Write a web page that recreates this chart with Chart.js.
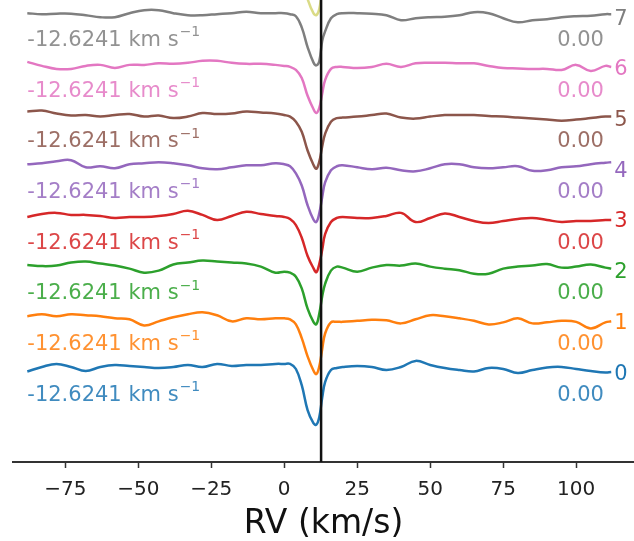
<!DOCTYPE html>
<html>
<head>
<meta charset="utf-8">
<script src="https://cdn.jsdelivr.net/npm/chart.js@4.4.1/dist/chart.umd.min.js"></script>
<style>
  html, body { margin: 0; padding: 0; background: #fff; }
</style>
</head>
<body>
<canvas id="myChart" width="634" height="541"></canvas>
<script>
// radial velocity grid (km/s)
const velocities = [-88, -83, -78, -73, -68, -63, -58, -53, -48, -43, -38, -33, -28, -23, -18, -13, -8, -3,
  0, 2, 4, 6, 8, 10, 11, 12, 13, 14, 16, 18, 20,
  25, 30, 35, 40, 45, 50, 55, 60, 65, 70, 75, 80, 85, 90, 95, 100, 105, 110, 112];

// normalised flux of each spectrum, bottom (0) to top (8, mostly cut off)
const flux0 = [0.97, 1.06, 1.12, 1.06, 0.98, 1.06, 1.10, 1.08, 1.06, 1.04, 1.06, 1.10, 1.06, 1.12, 1.08, 1.10, 1.10, 1.12, 1.12,
  1.12, 1.02, 0.70, 0.21, -0.05, -0.08, 0.07, 0.45, 0.76, 1.00, 1.04, 1.06,
  1.08, 1.06, 1.00, 1.06, 1.18, 1.10, 1.04, 1.00, 0.97, 1.04, 1.02, 0.94, 1.00, 1.05, 1.06, 1.02, 0.98, 0.95, 0.96];
const flux1 = [1.06, 1.10, 1.06, 1.10, 1.08, 1.06, 1.02, 1.00, 0.88, 0.96, 1.04, 1.10, 1.14, 1.08, 0.96, 1.02, 1.00, 1.02, 1.02,
  1.00, 0.90, 0.63, 0.27, -0.01, -0.08, 0.07, 0.41, 0.72, 0.94, 0.95, 0.95,
  0.97, 0.99, 0.98, 0.92, 1.00, 1.08, 1.06, 1.02, 0.97, 0.90, 0.94, 1.02, 0.92, 0.94, 0.97, 0.95, 0.82, 0.94, 0.96];
const flux2 = [1.07, 1.05, 1.06, 1.12, 1.14, 1.10, 1.06, 1.00, 0.92, 0.96, 1.08, 1.12, 1.16, 1.14, 1.12, 1.10, 1.04, 0.92, 0.94,
  0.92, 0.84, 0.61, 0.21, -0.05, -0.10, 0.11, 0.45, 0.70, 0.96, 1.04, 1.02,
  0.94, 1.02, 1.07, 1.06, 1.10, 1.04, 1.00, 0.97, 0.90, 0.90, 1.00, 1.04, 1.06, 1.09, 1.02, 1.04, 1.08, 1.02, 1.00];
const flux3 = [1.02, 1.08, 1.10, 1.06, 1.06, 1.04, 1.00, 1.02, 1.02, 1.04, 1.08, 1.14, 1.06, 0.96, 1.04, 1.12, 1.08, 1.04, 1.02,
  0.98, 0.86, 0.61, 0.25, 0.01, -0.07, 0.09, 0.37, 0.68, 0.92, 1.00, 1.02,
  1.00, 1.00, 1.04, 1.10, 0.92, 1.00, 1.09, 1.02, 0.94, 0.90, 0.94, 0.98, 1.00, 0.96, 0.92, 0.94, 0.94, 0.96, 0.96];
const flux4 = [1.06, 1.08, 1.12, 1.14, 1.00, 1.02, 0.98, 1.06, 1.08, 1.10, 1.08, 1.04, 0.98, 0.96, 1.00, 1.04, 1.04, 1.08, 1.06,
  1.02, 0.88, 0.64, 0.25, -0.03, -0.08, 0.09, 0.41, 0.70, 0.94, 1.02, 1.04,
  1.00, 0.96, 0.99, 0.94, 0.92, 0.98, 1.06, 1.06, 1.00, 0.98, 1.00, 1.02, 0.93, 0.94, 1.00, 1.02, 1.06, 1.09, 1.10];
const flux5 = [1.10, 1.12, 1.06, 1.02, 1.03, 1.00, 1.03, 1.05, 1.00, 1.02, 0.97, 1.00, 1.07, 1.05, 1.06, 1.10, 1.08, 1.06, 1.03,
  1.00, 0.90, 0.70, 0.33, 0.05, -0.03, 0.11, 0.41, 0.66, 0.90, 0.97, 0.98,
  1.00, 1.03, 1.06, 0.98, 0.96, 1.00, 1.03, 1.03, 1.03, 1.01, 1.00, 0.98, 0.96, 0.94, 0.92, 0.94, 0.97, 1.00, 1.00];
const flux6 = [1.08, 1.00, 0.94, 0.94, 1.00, 1.02, 0.96, 1.02, 1.02, 1.05, 1.04, 1.06, 1.10, 1.10, 1.06, 1.04, 1.04, 1.02, 1.00,
  0.98, 0.92, 0.76, 0.41, 0.15, 0.07, 0.17, 0.45, 0.72, 0.94, 0.98, 0.98,
  0.96, 0.98, 1.04, 0.98, 1.05, 1.06, 1.06, 1.05, 1.05, 1.00, 0.96, 0.95, 0.94, 0.94, 0.92, 1.02, 0.90, 1.00, 0.98];
const flux7 = [1.04, 1.02, 1.03, 1.03, 1.00, 0.96, 0.96, 1.04, 1.10, 1.10, 1.04, 1.00, 1.00, 1.02, 1.04, 1.07, 1.04, 1.04, 1.04,
  1.02, 0.98, 0.76, 0.37, 0.07, 0.01, 0.09, 0.49, 0.68, 0.94, 1.02, 1.04,
  1.04, 1.03, 1.00, 0.90, 0.94, 0.96, 0.97, 1.00, 1.06, 1.04, 0.94, 0.86, 0.90, 0.92, 0.96, 0.98, 0.99, 1.02, 1.02];
const flux8 = [1.02, 1.02, 1.02, 1.02, 1.02, 1.02, 1.02, 1.02, 1.02, 1.02, 1.02, 1.02, 1.02, 1.02, 1.02, 1.02, 1.02, 1.02, 1.02,
  1.00, 0.96, 0.75, 0.32, 0.04, 0.00, 0.12, 0.50, 0.70, 0.94, 1.00, 1.02,
  1.02, 1.02, 1.02, 1.02, 1.02, 1.02, 1.02, 1.02, 1.02, 1.02, 1.02, 1.02, 1.02, 1.02, 1.02, 1.02, 1.02, 1.02, 1.02];

const spectra = [flux0, flux1, flux2, flux3, flux4, flux5, flux6, flux7, flux8];
const spectrumLabels = ["0", "1", "2", "3", "4", "5", "6", "7", "8"];
const rvShift = "-12.6241";
const fitValue = "0.00";
const lineVelocity = 12.6241;
const xTicks = [-75, -50, -25, 0, 25, 50, 75, 100];
const xTitle = "RV (km/s)";

const colors = ["#1f77b4", "#ff7f0e", "#2ca02c", "#d62728", "#9467bd", "#8c564b", "#e377c2", "#7f7f7f", "rgba(188,189,34,0.55)"];
const offsetStep = 1;
const yMin = -0.815, yMax = 8.3;
const FONT = "'DejaVu Sans', sans-serif";

const datasets = spectra.map((f, i) => ({
  label: spectrumLabels[i],
  data: velocities.map((v, j) => ({ x: v, y: f[j] + i * offsetStep })),
  borderColor: colors[i],
  borderWidth: 2.5,
  pointRadius: 0,
  tension: 0.4,
  order: 1,
}));

// vertical marker at the reference velocity
datasets.push({
  label: "rv",
  data: [{ x: lineVelocity, y: yMin }, { x: lineVelocity, y: yMax }],
  borderColor: "#111",
  borderWidth: 2.5,
  pointRadius: 0,
  order: 0,
});

const textPlugin = {
  id: "spectrumText",
  afterDatasetsDraw(chart) {
    const ctx = chart.ctx;
    const xs = chart.scales.x, ys = chart.scales.y;
    ctx.save();
    spectra.forEach((f, i) => {
      const base = i * offsetStep;
      ctx.fillStyle = colors[i];
      ctx.textBaseline = "middle";
      // left note
      ctx.globalAlpha = 0.85;
      ctx.font = "21px " + FONT;
      ctx.textAlign = "left";
      const lx = xs.getPixelForValue(-88);
      const ly = ys.getPixelForValue(base + 0.5);
      const main = rvShift + " km s";
      ctx.fillText(main, lx, ly);
      const w = ctx.measureText(main).width;
      ctx.font = "14px " + FONT;
      ctx.fillText("\u22121", lx + w + 1, ly - 8);
      // right value
      ctx.font = "21px " + FONT;
      ctx.textAlign = "right";
      ctx.fillText(fitValue, xs.getPixelForValue(109.5), ly);
      // index label
      ctx.globalAlpha = 1;
      ctx.textAlign = "left";
      ctx.fillText(spectrumLabels[i], xs.getPixelForValue(113), ys.getPixelForValue(base + 0.92));
    });
    ctx.restore();
  },
};

new Chart(document.getElementById("myChart"), {
  type: "line",
  data: { datasets: datasets },
  options: {
    responsive: false,
    animation: false,
    devicePixelRatio: 1,
    layout: { padding: { left: 13, right: 0, top: 0, bottom: 0 } },
    plugins: { legend: { display: false }, tooltip: { enabled: false } },
    scales: {
      x: {
        type: "linear",
        min: -92.9,
        max: 119.8,
        afterBuildTicks: (s) => { s.ticks = xTicks.map((v) => ({ value: v })); },
        ticks: {
          autoSkip: false,
          maxRotation: 0,
          padding: 9.5,
          color: "#222",
          font: { family: FONT, size: 20 },
          callback: (v) => String(v).replace("-", "\u2212"),
        },
        grid: { drawOnChartArea: false, drawTicks: true, tickLength: 6, tickColor: "#333", tickWidth: 1.5 },
        border: { color: "#333", width: 2 },
        title: {
          display: true,
          text: xTitle,
          color: "#111",
          font: { family: FONT, size: 33, lineHeight: 1 },
          padding: { top: -3, bottom: 0 },
        },
      },
      y: { display: false, min: yMin, max: yMax },
    },
  },
  plugins: [textPlugin],
});
</script>
</body>
</html>
